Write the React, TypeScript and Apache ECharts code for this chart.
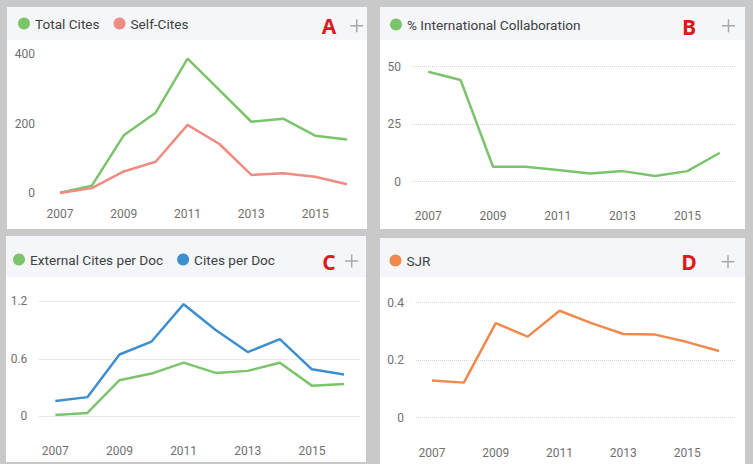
import React, { useEffect, useRef } from "react";
import * as echarts from "echarts";

const years = ["2007", "2008", "2009", "2010", "2011", "2012", "2013", "2014", "2015", "2016"];
const totalCites = [1, 21, 166, 231, 387, 296, 205, 214, 165, 154];
const selfCites = [0, 14, 62, 90, 196, 141, 52, 57, 47, 25];
const intlCollab = [47.8, 44.2, 6.5, 6.5, 5.1, 3.6, 4.6, 2.5, 4.6, 12.6];
const externalCitesPerDoc = [0.014, 0.035, 0.377, 0.446, 0.56, 0.453, 0.474, 0.558, 0.32, 0.338];
const citesPerDoc = [0.16, 0.2, 0.645, 0.78, 1.17, 0.9, 0.67, 0.806, 0.49, 0.436];
const sjr = [0.129, 0.122, 0.329, 0.282, 0.372, 0.329, 0.291, 0.289, 0.263, 0.232];

const panelLetters = ["A", "B", "C", "D"];

const GREEN = "#7cc46c";
const SALMON = "#ee8b83";
const BLUE = "#3d8fcf";
const ORANGE = "#ee8a4e";
const FONT = "Roboto";

export default function App() {
  const ref = useRef<HTMLDivElement>(null);
  useEffect(() => {
    document.body.style.margin = "0";
    const chart = echarts.init(ref.current!, null, { renderer: "svg" });

    const cards = [
      { x: 7, y: 7, w: 360, h: 222, hh: 33 },
      { x: 380, y: 7, w: 365, h: 222, hh: 33 },
      { x: 6, y: 236, w: 360, h: 226, hh: 41 },
      { x: 380, y: 238, w: 365, h: 226, hh: 39 },
    ];
    const letterPos = [
      [329, 26],
      [689, 26.5],
      [329, 261.5],
      [689, 262],
    ];
    const plusPos = [
      [356.7, 25.8],
      [728.5, 25.8],
      [351.7, 261],
      [728, 261.7],
    ];

    const graphics: any[] = [];
    cards.forEach((c) => {
      graphics.push({
        type: "rect",
        z: -10,
        shape: { x: c.x, y: c.y, width: c.w, height: c.h },
        style: { fill: "#ffffff" },
      });
      graphics.push({
        type: "rect",
        z: -9,
        shape: { x: c.x, y: c.y, width: c.w, height: c.hh },
        style: { fill: "#f4f6f9" },
      });
    });
    panelLetters.forEach((l, i) => {
      graphics.push({
        type: "text",
        x: letterPos[i][0],
        y: letterPos[i][1],
        style: {
          text: l,
          fill: "#e3161e",
          font: "bold 21px 'Open Sans'",
          align: "center",
          verticalAlign: "middle",
        },
      });
      const [px, py] = plusPos[i];
      graphics.push({
        type: "line",
        shape: { x1: px - 6.5, y1: py, x2: px + 6.5, y2: py },
        style: { stroke: "#a8a8a8", lineWidth: 1.5 },
      });
      graphics.push({
        type: "line",
        shape: { x1: px, y1: py - 6.5, x2: px, y2: py + 6.5 },
        style: { stroke: "#a8a8a8", lineWidth: 1.5 },
      });
    });

    const grids = [
      { left: 44, width: 319, top: 54, bottom: 271 },
      { left: 412, width: 324, top: 66.7, bottom: 464 - 181.7 },
      { left: 39.3, width: 320.7, top: 301.3, bottom: 464 - 416.3 },
      { left: 416, width: 319, top: 302.7, bottom: 464 - 417.7 },
    ];
    const xMargins = [15, 28, 29, 29];
    const yMargins = [9, 11, 12, 12];
    const yRanges = [
      [0, 400, 200],
      [0, 50, 25],
      [0, 1.2, 0.6],
      [0, 0.4, 0.2],
    ];

    const legendCfg = [
      { left: 18, top: 16.5, data: ["Total Cites", "Self-Cites"] },
      { left: 390, top: 17.5, data: ["% International Collaboration"] },
      { left: 13, top: 252.5, data: ["External Cites per Doc", "Cites per Doc"] },
      { left: 389.5, top: 253.5, data: ["SJR"] },
    ];

    const lineSeries = (name: string, data: number[], color: string, idx: number) => ({
      name,
      type: "line",
      xAxisIndex: idx,
      yAxisIndex: idx,
      data,
      symbol: "none",
      showSymbol: false,
      lineStyle: { color, width: 2.5 },
      itemStyle: { color },
    });

    chart.setOption({
      animation: false,
      backgroundColor: "#c9c9c9",
      textStyle: { fontFamily: FONT },
      graphic: { elements: graphics },
      legend: legendCfg.map((l) => ({
        left: l.left,
        top: l.top,
        data: l.data,
        icon: "circle",
        itemWidth: 12,
        itemHeight: 12,
        itemGap: 14,
        padding: 0,
        selectedMode: false,
        textStyle: { color: "#404040", fontSize: 13.6, fontFamily: FONT },
      })),
      grid: grids.map((g) => ({ ...g, containLabel: false })),
      xAxis: grids.map((_, i) => ({
        type: "category",
        gridIndex: i,
        data: years,
        boundaryGap: true,
        axisLine: { show: false },
        axisTick: { show: false },
        axisLabel: { interval: 1, color: "#707070", fontSize: 12, margin: xMargins[i], fontFamily: FONT },
      })),
      yAxis: grids.map((_, i) => ({
        type: "value",
        gridIndex: i,
        min: yRanges[i][0],
        max: yRanges[i][1],
        interval: yRanges[i][2],
        axisLine: { show: false },
        axisTick: { show: false },
        axisLabel: { color: "#707070", fontSize: 12, margin: yMargins[i], fontFamily: FONT },
        splitLine: {
          show: i !== 0,
          lineStyle: { color: "#d6d6d6", type: "dotted", width: 1 },
        },
      })),
      series: [
        lineSeries("Total Cites", totalCites, GREEN, 0),
        lineSeries("Self-Cites", selfCites, SALMON, 0),
        lineSeries("% International Collaboration", intlCollab, GREEN, 1),
        lineSeries("External Cites per Doc", externalCitesPerDoc, GREEN, 2),
        lineSeries("Cites per Doc", citesPerDoc, BLUE, 2),
        lineSeries("SJR", sjr, ORANGE, 3),
      ],
    });
    return () => chart.dispose();
  }, []);
  return <div ref={ref} style={{ width: 753, height: 464, position: "absolute", left: 0, top: 0 }} />;
}
